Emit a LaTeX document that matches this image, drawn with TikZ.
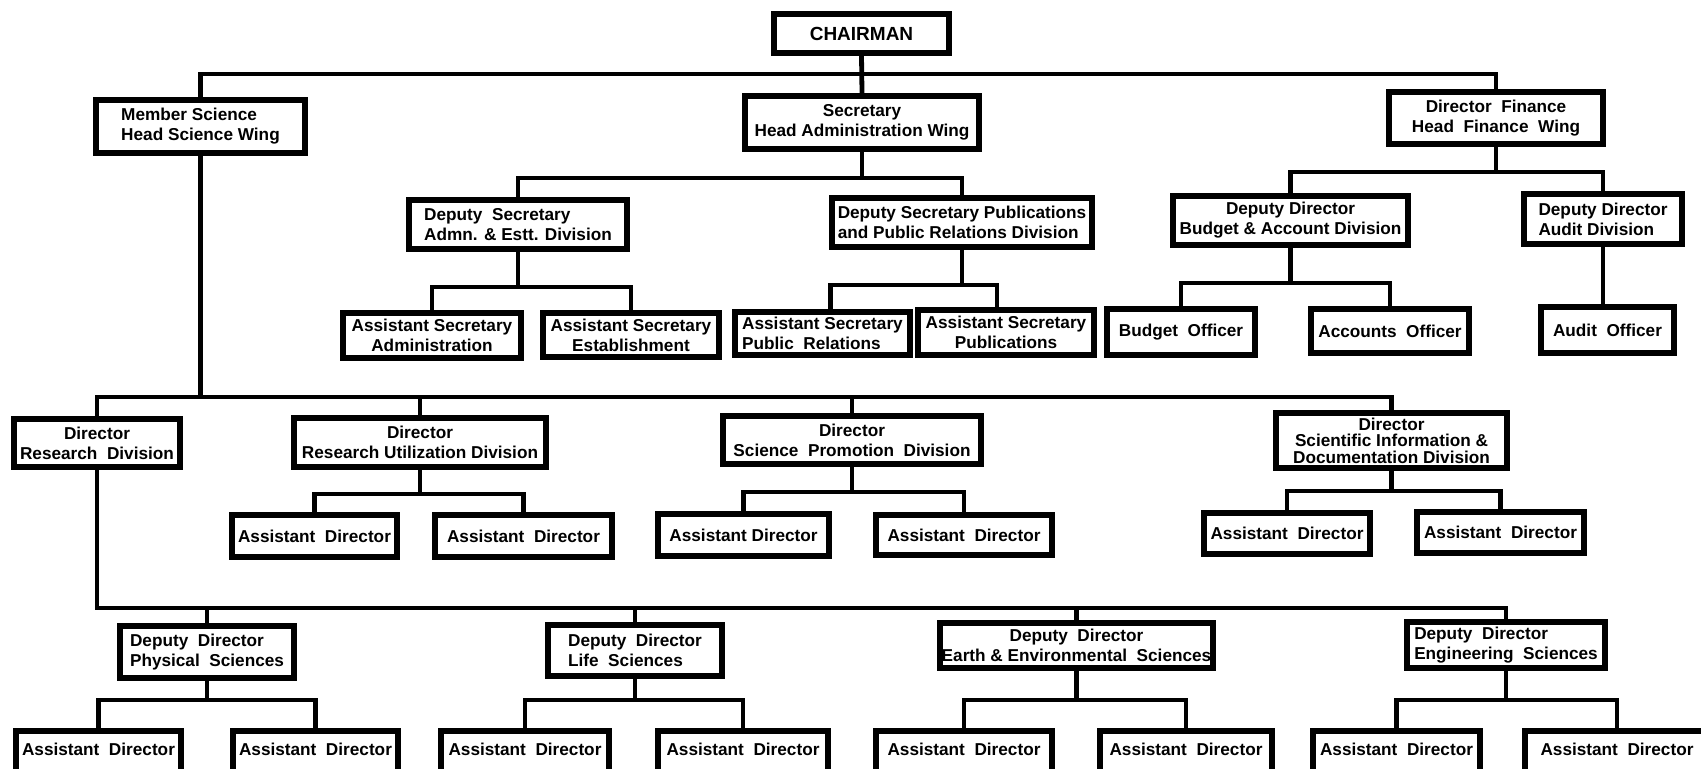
\documentclass[tikz,border=0pt]{standalone}
\usepackage{fontspec}
\setmainfont{Liberation Sans}
\tikzset{
  box/.style={draw, line width=2.8pt, inner sep=1pt, font=\bfseries\fontsize{8.6}{10}\selectfont, align=center},
  link/.style={line width=2.4pt, line cap=rect},
}
\newcommand\bx[7][center]{%
  \node[box, align=#1, minimum width={(#5-#3)*0.5pt-2.8pt}, minimum height={(#6-#4)*0.5pt-2.8pt}]
    (#2) at ({(#3+#5)/2},{(#4+#6)/2}) {#7};}
\newcommand\bxb[3]{%
  \node[box, anchor=north, inner ysep=5pt, text height=7.5pt, text depth=22pt, minimum width={(#3-#2)*0.5pt-2.8pt}]
    (#1) at ({(#2+#3)/2},728) {Assistant\ \ Director};}
\begin{document}
\begin{tikzpicture}[x=0.5pt,y=-0.5pt]
\useasboundingbox (0,0) rectangle (1701,768);
\clip (0,0) rectangle (1701,768);
\fill[white] (0,0) rectangle (1701,768);
% bus levels
\coordinate (b0) at (0,74);
\coordinate (b1) at (0,178);
\coordinate (b1f) at (0,172);
\coordinate (b2) at (0,287);
\coordinate (b2p) at (0,285);
\coordinate (b2b) at (0,283);
\coordinate (b3) at (0,397);
\coordinate (b4) at (0,494);
\coordinate (b4p) at (0,492);
\coordinate (b4i) at (0,491);
\coordinate (b5) at (0,608);
\coordinate (b6) at (0,700);
% top
\node[box, font=\bfseries\fontsize{9.5}{11}\selectfont, minimum width={181*0.5pt-2.8pt}, minimum height={45*0.5pt-2.8pt}] (chair) at (861.5,33.5) {CHAIRMAN};
\bx[left]{ms}{93}{97}{308}{156}{Member Science\\Head Science Wing}
\bx{sec}{742}{93}{982}{152}{Secretary\\Head Administration Wing}
\bx{df}{1386}{89}{1606}{147}{Director\ \ Finance\\Head\ \ Finance\ \ Wing}
\bx[left]{dsa}{406}{197}{630}{252}{Deputy\ \ Secretary\\Admn. \& Estt. Division}
\bx[left]{dsp}{829}{195}{1095}{250}{Deputy Secretary Publications\\and Public Relations Division}
\bx{asa}{340}{310}{524}{361}{Assistant Secretary\\Administration}
\bx{ase}{540}{310}{722}{360}{Assistant Secretary\\Establishment}
\bx[left]{asr}{732}{309}{913}{358}{Assistant Secretary\\Public\ \ Relations}
\bx{asp}{915}{307}{1097}{358}{Assistant Secretary\\Publications}
\bx{ddb}{1170}{193}{1411}{248}{Deputy Director\\Budget \& Account Division}
\bx[left]{dda}{1521}{191}{1685}{247}{Deputy Director\\Audit Division}
\bx{bo}{1104}{306}{1258}{358}{Budget\ \ Officer}
\bx{ao}{1308}{306}{1472}{356}{Accounts\ \ Officer}
\bx{auo}{1538}{304}{1677}{356}{Audit\ \ Officer}
% middle
\bx{drd}{11}{416}{183}{470}{Director\\Research\ \ Division}
\bx{dru}{291}{415}{549}{470}{Director\\Research Utilization Division}
\bx{dsc}{720}{413}{984}{467}{Director\\Science\ \ Promotion\ \ Division}
\node[box, font=\bfseries\fontsize{8.6}{8.2}\selectfont, minimum width={237*0.5pt-2.8pt}, minimum height={61*0.5pt-2.8pt}] (dsi) at (1391.5,440.5) {Director\\Scientific Information \&\\Documentation Division};
\bx{ra1}{229}{512}{400}{560}{Assistant\ \ Director}
\bx{ra2}{432}{512}{615}{560}{Assistant\ \ Director}
\bx{pa1}{655}{511}{832}{559}{Assistant Director}
\bx{pa2}{873}{512}{1055}{558}{Assistant\ \ Director}
\bx{ia1}{1201}{510}{1373}{557}{Assistant\ \ Director}
\bx{ia2}{1414}{509}{1587}{556}{Assistant\ \ Director}
% lower
\bx[left]{ddp}{117}{623}{297}{681}{Deputy\ \ Director\\Physical\ \ Sciences}
\bx[left]{ddl}{545}{622}{725}{679}{Deputy\ \ Director\\Life\ \ Sciences}
\bx{dde}{939}{620}{1214}{671}{Deputy\ \ Director\\Earth \& Environmental\ \ Sciences}
\bx[left]{ddg}{1404}{619}{1608}{671}{Deputy\ \ Director\\Engineering\ \ Sciences}
\bxb{p1}{13}{184}
\bxb{p2}{230}{401}
\bxb{l1}{438}{612}
\bxb{l2}{655}{831}
\bxb{e1}{873}{1055}
\bxb{e2}{1097}{1275}
\bxb{g1}{1310}{1483}
\bxb{g2}{1522}{1712}
% connectors
\draw[link] (chair.south) -- (sec.north);
\draw[link] (chair.south |- b0) -| (ms.north);
\draw[link] (chair.south |- b0) -| (df.north);
\draw[link] (sec.south) -- (sec.south |- b1) -| (dsa.north);
\draw[link] (sec.south |- b1) -| (dsp.north);
\draw[link] (dsa.south) -- (dsa.south |- b2) -| (asa.north);
\draw[link] (dsa.south |- b2) -| (ase.north);
\draw[link] (dsp.south) -- (dsp.south |- b2p) -| ([xshift=4pt]asr.north);
\draw[link] (dsp.south |- b2p) -| ([xshift=-4.5pt]asp.north);
\draw[link] (df.south) -- (df.south |- b1f) -| (ddb.north);
\draw[link] (df.south |- b1f) -| (dda.north);
\draw[link] (ddb.south) -- (ddb.south |- b2b) -| (bo.north);
\draw[link] (ddb.south |- b2b) -| (ao.north);
\draw[link] (dda.south) -- (dda.south |- auo.north);
\draw[link] (ms.south) -- (ms.south |- b3) -| (drd.north);
\draw[link] (ms.south |- b3) -| (dru.north);
\draw[link] (ms.south |- b3) -| (dsc.north);
\draw[link] (ms.south |- b3) -| (dsi.north);
\draw[link] (dru.south) -- (dru.south |- b4) -| (ra1.north);
\draw[link] (dru.south |- b4) -| (ra2.north);
\draw[link] (dsc.south) -- (dsc.south |- b4p) -| (pa1.north);
\draw[link] (dsc.south |- b4p) -| (pa2.north);
\draw[link] (dsi.south) -- (dsi.south |- b4i) -| (ia1.north);
\draw[link] (dsi.south |- b4i) -| (ia2.north);
\draw[link] (drd.south) -- (drd.south |- b5) -| (ddp.north);
\draw[link] (drd.south |- b5) -| (ddl.north);
\draw[link] (drd.south |- b5) -| (dde.north);
\draw[link] (drd.south |- b5) -| (ddg.north);
\draw[link] (ddp.south) -- (ddp.south |- b6) -| (p1.north);
\draw[link] (ddp.south |- b6) -| (p2.north);
\draw[link] (ddl.south) -- (ddl.south |- b6) -| (l1.north);
\draw[link] (ddl.south |- b6) -| (l2.north);
\draw[link] (dde.south) -- (dde.south |- b6) -| (e1.north);
\draw[link] (dde.south |- b6) -| (e2.north);
\draw[link] (ddg.south) -- (ddg.south |- b6) -| (g1.north);
\draw[link] (ddg.south |- b6) -| (g2.north);
\end{tikzpicture}
\end{document}
